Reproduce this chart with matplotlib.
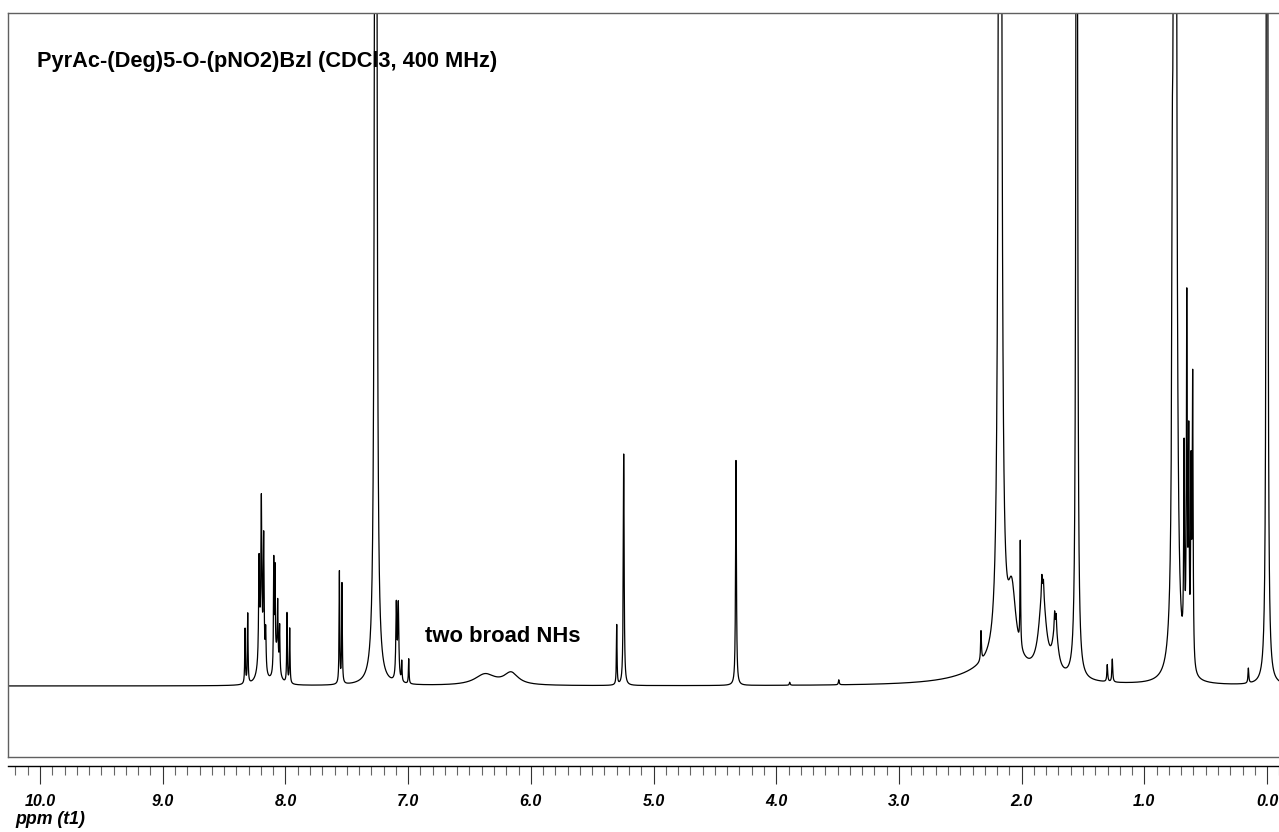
import matplotlib
matplotlib.use("Agg")
import matplotlib.pyplot as plt
from matplotlib.ticker import MultipleLocator, FormatStrFormatter
import numpy as np

plt.rcParams["font.family"] = ["Liberation Sans", "DejaVu Sans"]

W, H = 1279, 832

# peak list: shift (ppm), height above baseline, half width (ppm)
peak_ppm = [8.329, 8.307, 8.215, 8.196, 8.177, 8.161, 8.20, 8.095, 8.085, 8.063,
            8.047, 8.07, 7.987, 7.965, 7.560, 7.539, 7.264, 7.096, 7.080, 7.052,
            6.995, 6.373, 6.161, 5.300, 5.243, 4.328, 3.89, 3.49, 2.331, 2.20,
            2.176, 2.08, 2.011, 1.83, 1.835, 1.822, 1.725, 1.731, 1.718, 1.551,
            1.302, 1.261, 0.772, 0.750, 0.676, 0.654, 0.638, 0.619, 0.606, 0.152,
            0.0]
peak_height = [55, 70, 95, 138, 125, 40, 45, 108, 92, 55,
               45, 30, 70, 55, 112, 100, 4000, 75, 75, 20,
               25, 11, 12, 60, 232, 225, 3, 5, 30, 18,
               3000, 70, 105, 80, 18, 15, 45, 14, 14, 2000,
               17, 23, 250, 4000, 200, 355, 215, 185, 285, 15,
               3000]
peak_hwhm = [0.003, 0.003, 0.004, 0.004, 0.004, 0.004, 0.02, 0.003, 0.003, 0.003,
             0.003, 0.02, 0.003, 0.003, 0.003, 0.003, 0.005, 0.005, 0.005, 0.003,
             0.003, 0.10, 0.07, 0.003, 0.004, 0.004, 0.004, 0.004, 0.004, 0.30,
             0.008, 0.04, 0.003, 0.035, 0.004, 0.004, 0.025, 0.003, 0.003, 0.005,
             0.004, 0.004, 0.005, 0.0065, 0.004, 0.004, 0.004, 0.004, 0.004, 0.004,
             0.0038]

xlim = (10.261, -0.130)
ylim = (-71, 673)

ppm = np.arange(xlim[1], xlim[0], 0.0004)
intensity = np.zeros_like(ppm)
for p, h, g in zip(peak_ppm, peak_height, peak_hwhm):
    intensity += h * g ** 2 / ((ppm - p) ** 2 + g ** 2)

fig = plt.figure(figsize=(W / 100, H / 100), dpi=100)
fig.patch.set_facecolor("white")

ax = fig.add_axes([8 / W, (H - 757) / H, (1283 - 8) / W, (757 - 13) / H])
ax.plot(ppm, intensity, color="black", lw=0.9)
ax.set_xlim(*xlim)
ax.set_ylim(*ylim)
ax.set_xticks([])
ax.set_yticks([])
for s in ax.spines.values():
    s.set_color("#606060")
    s.set_linewidth(1.0)

fig.text(37 / W, (H - 62) / H, "PyrAc-(Deg)5-O-(pNO2)Bzl (CDCl3, 400 MHz)",
         ha="left", va="center", fontsize=15.7, fontweight="bold")
ax.text(6.862, 686 - 637, "two broad NHs", ha="left", va="center",
        fontsize=15.8, fontweight="bold")

# separate ppm scale below the frame
sc = fig.add_axes([8 / W, (H - 766) / H, (1283 - 8) / W, 0.0001])
sc.set_xlim(*xlim)
sc.set_yticks([])
for k in ["left", "right", "top"]:
    sc.spines[k].set_visible(False)
sc.spines["bottom"].set_linewidth(1.0)
sc.xaxis.set_major_locator(MultipleLocator(1.0))
sc.xaxis.set_minor_locator(MultipleLocator(0.1))
sc.xaxis.set_major_formatter(FormatStrFormatter("%.1f"))
sc.tick_params(axis="x", which="major", direction="out", length=13, width=0.8,
               color="#333333", pad=7, labelsize=11.5)
sc.tick_params(axis="x", which="minor", direction="out", length=6.5, width=0.8,
               color="#666666")
for lab in sc.get_xticklabels():
    lab.set_fontweight("bold")
    lab.set_fontstyle("italic")

fig.text(15 / W, (H - 820) / H, "ppm (t1)", ha="left", va="center",
         fontsize=12.8, fontweight="bold", fontstyle="italic")

fig.savefig("out.png", dpi=100, facecolor="white")
